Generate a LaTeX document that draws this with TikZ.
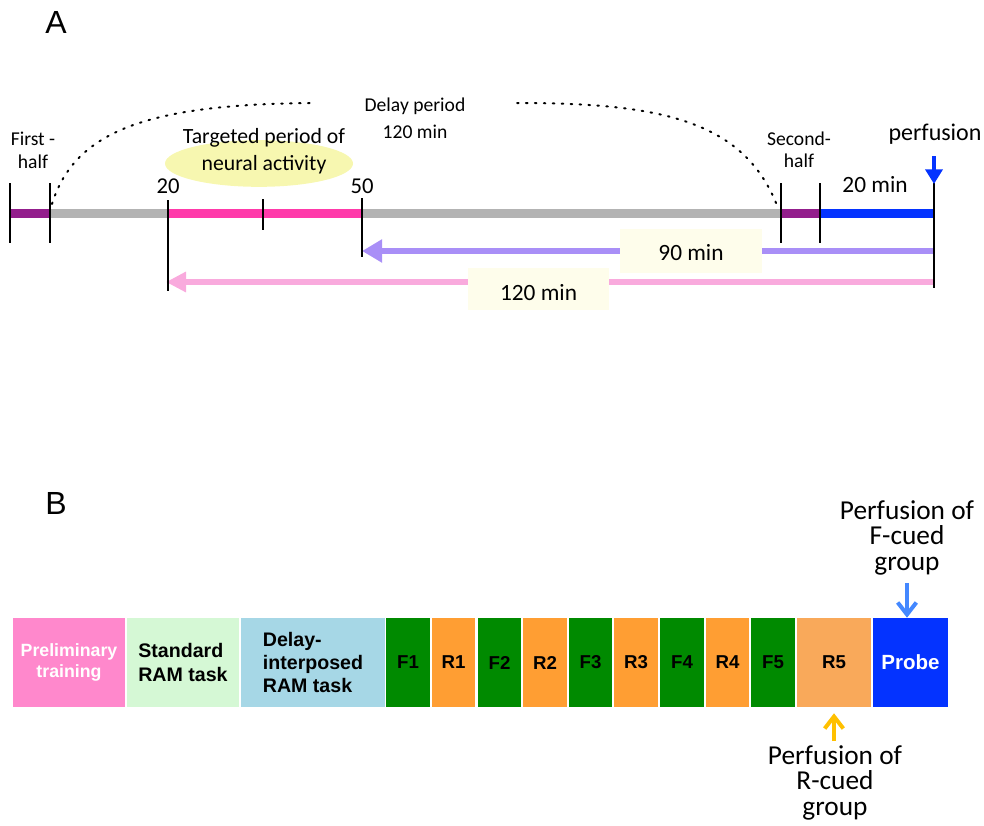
\documentclass[tikz,border=0pt]{standalone}
\usepackage{fontspec}
\setmainfont{Carlito}
\newfontfamily\arial{Liberation Sans}
\usetikzlibrary{arrows.meta,shapes.geometric}
\definecolor{segpurple}{RGB}{147,30,140}
\definecolor{seggray}{RGB}{179,179,179}
\definecolor{segpink}{RGB}{255,58,170}
\definecolor{segblue}{RGB}{4,51,255}
\definecolor{lavender}{RGB}{169,143,247}
\definecolor{lightpink}{RGB}{249,170,221}
\definecolor{cream}{RGB}{254,253,235}
\definecolor{paleyellow}{RGB}{247,247,176}
\definecolor{prelim}{RGB}{255,136,204}
\definecolor{stdgreen}{RGB}{213,248,213}
\definecolor{delayblue}{RGB}{166,215,230}
\definecolor{fgreen}{RGB}{0,138,0}
\definecolor{rorange}{RGB}{255,158,51}
\definecolor{r5orange}{RGB}{249,169,90}
\definecolor{probeblue}{RGB}{4,51,255}
\definecolor{arrowblue}{RGB}{68,136,255}
\definecolor{arrowgold}{RGB}{255,192,0}
\begin{document}
\begin{tikzpicture}[x=0.75pt,y=-0.75pt,
  seg/.style={line width=6.75pt},
  tick/.style={line width=1.5pt,black},
  lbl/.style={font=\fontsize{14.7}{17}\selectfont,anchor=base,inner sep=0pt},
  mid/.style={font=\fontsize{17.5}{20}\selectfont,anchor=base,inner sep=0pt},
  big/.style={font=\fontsize{20.5}{18.8}\selectfont,align=center,inner sep=0pt},
  panel/.style={font=\arial\fontsize{24}{28}\selectfont,inner sep=0pt},
  dots/.style={line width=1.5pt,dash pattern=on 1.2pt off 5.5pt,line cap=round},
  box/.style={draw=none,minimum height=66.75pt,inner sep=0pt,
    font=\arial\bfseries\fontsize{14}{17}\selectfont},
  barrow/.style={line width=3pt,-{Straight Barb[length=9pt,width=14pt]}}]
\useasboundingbox (0,0) rectangle (984,825);

% ---------------- Panel A ----------------
\node[panel] (labA) at (56,22) {A};

% ellipse
\node[ellipse,fill=paleyellow,minimum width=141pt,minimum height=35pt,inner sep=0pt] (ell) at (259,163.5) {};
\node[font=\fontsize{16.3}{20}\selectfont,anchor=base,inner sep=0pt] (targ1) at (264,143) {Targeted period of};
\node[font=\fontsize{16.3}{20}\selectfont,anchor=base,inner sep=0pt] (targ2) at (264,170) {neural activity};

% timeline coordinates
\coordinate (t0) at (10,213);
\coordinate (t1) at (50,213);
\coordinate (t2) at (168,213);
\coordinate (t3) at (362,213);
\coordinate (t4) at (781,213);
\coordinate (t5) at (820,213);
\coordinate (t6) at (934,213);
\draw[seg,segpurple] (t0) -- (t1);
\draw[seg,seggray] (t1) -- (t2);
\draw[seg,segpink] (t2) -- (t3);
\draw[seg,seggray] (t3) -- (t4);
\draw[seg,segpurple] (t4) -- (t5);
\draw[seg,segblue] (t5) -- (t6);

% arrows
\coordinate (a90s) at (934,251);
\coordinate (a90e) at (362,251);
\draw[line width=4.5pt,lavender,-{Triangle[length=15pt,width=16.5pt]}] (a90s) -- (a90e);
\coordinate (a120s) at (934,282);
\coordinate (a120e) at (166,282);
\draw[line width=4.5pt,lightpink,-{Triangle[length=15pt,width=14.5pt]}] (a120s) -- (a120e);

% ticks
\draw[tick] (10,183) -- (10,243);
\draw[tick] (50,183) -- (50,243);
\draw[tick] (168,200) -- (168,291);
\draw[tick] (263,199) -- (263,230);
\draw[tick] (362,198) -- (362,257);
\draw[tick] (781,183) -- (781,243);
\draw[tick] (820,183) -- (820,243);
\draw[tick] (934,183) -- (934,288);

% label boxes
\node[fill=cream,minimum width=106.5pt,minimum height=33pt,inner sep=0pt] (b90) at (691,251) {};
\node[mid] (t90) at (691,260) {90 min};
\node[fill=cream,minimum width=105.75pt,minimum height=32pt,inner sep=0pt] (b120) at (538.5,289) {};
\node[mid] (t120) at (538.5,300) {120 min};

% texts
\node[lbl] (first1) at (33,145) {First -};
\node[lbl] (first2) at (33,168) {half};
\node[lbl] (sec1) at (799,145) {Second-};
\node[lbl] (sec2) at (799,167) {half};
\node[lbl] (del1) at (415,111) {Delay period};
\node[lbl] (del2) at (415,138) {120 min};
\node[mid,font=\fontsize{17}{20}\selectfont] (n20) at (168,193) {20};
\node[mid,font=\fontsize{17}{20}\selectfont] (n50) at (362,193) {50};
\node[mid] (m20) at (875,192) {20 min};
\node[mid,font=\fontsize{18}{20}\selectfont] (perf) at (935,140) {perfusion};

% perfusion arrow
\coordinate (pa1) at (934,156);
\coordinate (pa2) at (934,184);
\draw[line width=3pt,segblue,-{Triangle[length=11pt,width=12.75pt]}] (pa1) -- (pa2);

% dotted curves
\coordinate (d1) at (52,204);
\coordinate (d2) at (315,103);
\coordinate (d3) at (517,103);
\coordinate (d4) at (778,208);
\draw[dots] (d1) .. controls (75,130) and (150,104) .. (d2);
\draw[dots] (d3) .. controls (660,103) and (745,120) .. (d4);

% ---------------- Panel B ----------------
\node[panel] (labB) at (56,503) {B};

\node[box,fill=prelim,minimum width=84pt,text=white,align=center,font=\arial\bfseries\fontsize{13.3}{15.8}\selectfont] (pre) at (69,662.5) {Preliminary\\training};
\node[box,fill=stdgreen,minimum width=84pt,align=left,font=\arial\bfseries\fontsize{14.7}{18}\selectfont] (std) at (183,662.5) {Standard\\RAM task};
\node[box,fill=delayblue,minimum width=108pt,align=left,font=\arial\bfseries\fontsize{14.7}{17.6}\selectfont] (dly) at (313,662.5) {Delay-\\interposed\\RAM task};
\node[box,fill=fgreen,minimum width=33pt] (f1) at (408,662.5) {F1};
\node[box,fill=rorange,minimum width=32.25pt] (r1) at (453.5,662.5) {R1};
\node[box,fill=fgreen,minimum width=32.25pt] (f2) at (499.5,662.5) {F2};
\node[box,fill=rorange,minimum width=33pt] (r2) at (545,662.5) {R2};
\node[box,fill=fgreen,minimum width=32.25pt] (f3) at (590.5,662.5) {F3};
\node[box,fill=rorange,minimum width=33pt] (r3) at (636,662.5) {R3};
\node[box,fill=fgreen,minimum width=33pt] (f4) at (682,662.5) {F4};
\node[box,fill=rorange,minimum width=32.25pt] (r4) at (727.5,662.5) {R4};
\node[box,fill=fgreen,minimum width=33pt] (f5) at (773,662.5) {F5};
\node[box,fill=r5orange,minimum width=55.5pt] (r5) at (834,662.5) {R5};
\node[box,fill=probeblue,minimum width=56.25pt,text=white,font=\arial\bfseries\fontsize{15.4}{18}\selectfont] (probe) at (910.5,662.5) {Probe};

\node[big,anchor=base] (fc) at (907,570) {Perfusion of\\F-cued\\group};
\node[big,anchor=base] (rc) at (835,815) {Perfusion of\\R-cued\\group};

\coordinate (fa1) at (907,583);
\draw[barrow,arrowblue] (fa1) -- (probe.north -| fa1);
\coordinate (ra1) at (834,741);
\draw[barrow,arrowgold] (ra1) -- ([yshift=-4.5pt]r5.south);
\end{tikzpicture}
\end{document}
